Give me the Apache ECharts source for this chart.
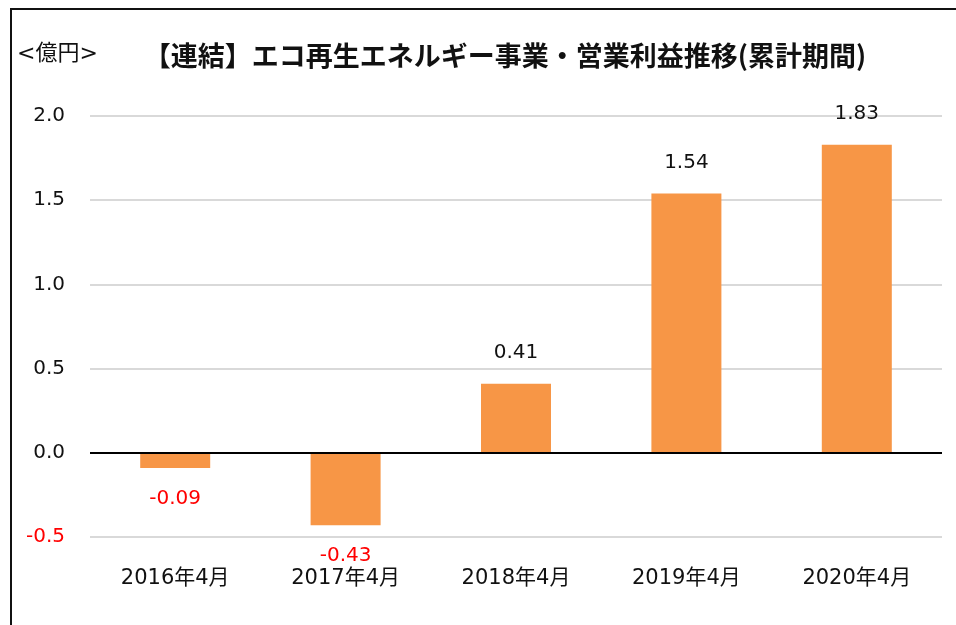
<!DOCTYPE html>
<html>
<head>
<meta charset="utf-8">
<script src="https://cdn.jsdelivr.net/npm/echarts@6/dist/echarts.min.js"></script>
<style>
  html, body { margin: 0; padding: 0; background: #fff; }
  #chart { width: 956px; height: 625px; }
</style>
</head>
<body>
<div id="chart"></div>
<script>
const categories = ['2016年4月', '2017年4月', '2018年4月', '2019年4月', '2020年4月']
const profits = [-0.09, -0.43, 0.41, 1.54, 1.83]
const yTicks = { min: -0.5, max: 2.0, step: 0.5 }

const FONT = '"DejaVu Sans", "Noto Sans CJK JP", sans-serif'
const chart = echarts.init(document.getElementById('chart'))

const option = {
    backgroundColor: '#fff',
    animation: false,
    title: {
        text: '【連結】エコ再生エネルギー事業・営業利益推移(累計期間)',
        left: 500,
        top: 37,
        textAlign: 'center',
        textStyle: { fontFamily: '"Noto Sans CJK JP", sans-serif', fontSize: 27, fontWeight: 'bold', color: '#111' }
    },
    graphic: [
        {
            type: 'polyline',
            shape: { points: [[11, 625], [11, 9], [956, 9]] },
            style: { stroke: '#111', lineWidth: 2, fill: null }
        },
        {
            type: 'text',
            left: 17,
            top: 43,
            style: { text: '<億円>', font: '22px ' + FONT, fill: '#111' }
        }
    ],
    grid: { left: 90, right: 14, top: 116, bottom: 88 },
    xAxis: {
        type: 'category',
        data: categories,
        axisLine: { show: false, onZero: false },
        axisTick: { show: false },
        axisLabel: { fontFamily: FONT, fontSize: 21, color: '#111', margin: 31 }
    },
    yAxis: {
        type: 'value',
        min: yTicks.min,
        max: yTicks.max,
        interval: yTicks.step,
        axisLine: { show: false },
        axisTick: { show: false },
        splitLine: { lineStyle: { color: '#d9d9d9', width: 2 } },
        axisLabel: {
            fontFamily: FONT,
            fontSize: 20,
            margin: 25,
            formatter: v => v.toFixed(1),
            color: v => (v < 0 ? '#ff0000' : '#111')
        }
    },
    series: [{
        type: 'bar',
        barWidth: 70,
        data: profits.map(v => ({
            value: v,
            label: {
                position: v < 0 ? 'bottom' : 'top',
                color: v < 0 ? '#ff0000' : '#111'
            }
        })),
        itemStyle: { color: '#f79646' },
        label: {
            show: true,
            distance: 21,
            fontFamily: FONT,
            fontSize: 20,
            formatter: p => p.value.toFixed(2)
        },
        markLine: {
            silent: true,
            symbol: 'none',
            label: { show: false },
            lineStyle: { color: '#000', width: 2, type: 'solid' },
            data: [{ yAxis: 0 }]
        }
    }]
}

chart.setOption(option)
</script>
</body>
</html>
